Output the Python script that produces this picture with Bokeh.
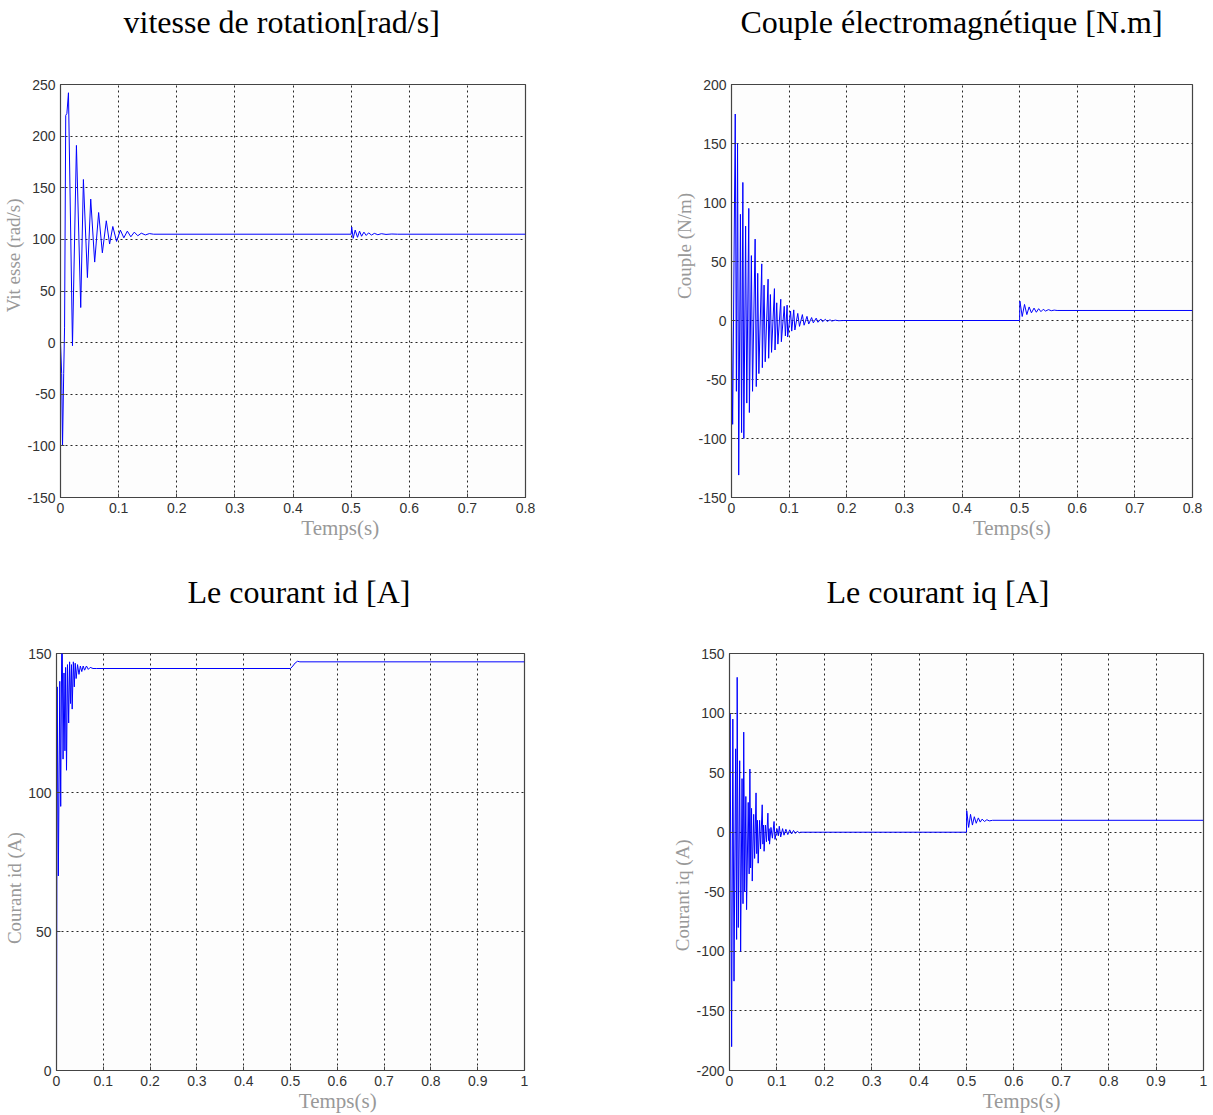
from bokeh.plotting import figure
from bokeh.layouts import column, row
from bokeh.models import Range1d, FixedTicker, Title
from bokeh.embed import file_html
from bokeh.resources import INLINE

# ---------------- data ----------------
titles = ["vitesse de rotation[rad/s]", "Couple électromagnétique [N.m]",
          "Le courant id [A]", "Le courant iq [A]"]
ylabels = ["Vit esse (rad/s)", "Couple (N/m)", "Courant id (A)", "Courant iq (A)"]
xlabel = "Temps(s)"

xticks_08 = [0, 0.1, 0.2, 0.3, 0.4, 0.5, 0.6, 0.7, 0.8]
xticks_10 = [0, 0.1, 0.2, 0.3, 0.4, 0.5, 0.6, 0.7, 0.8, 0.9, 1.0]
yticks_speed = [-150, -100, -50, 0, 50, 100, 150, 200, 250]
yticks_torque = [-150, -100, -50, 0, 50, 100, 150, 200]
yticks_id = [0, 50, 100, 150]
yticks_iq = [-200, -150, -100, -50, 0, 50, 100, 150]

speed_t = [0.000, 0.002, 0.0035, 0.0055, 0.007, 0.009, 0.011, 0.0137, 0.0206, 0.0274,
           0.0348, 0.0394, 0.0463, 0.052, 0.0588, 0.0656, 0.072, 0.0788, 0.0845, 0.090,
           0.0965, 0.103, 0.109, 0.115, 0.121, 0.127, 0.133, 0.139, 0.146, 0.153,
           0.160, 0.5, 0.501, 0.5035, 0.507, 0.511, 0.5145, 0.518, 0.522, 0.526,
           0.530, 0.535, 0.540, 0.546, 0.552, 0.560, 0.570, 0.580, 0.8]
speed_v = [0, -30, -100, -30, 15, 220, 222, 242, -3, 191,
           34, 158, 63, 139, 78, 126, 87, 118, 95.5, 112.5,
           98, 109, 101.5, 108, 102.5, 107, 103.5, 106, 104.3, 105.6,
           105, 105, 112, 101, 109, 102, 108, 103, 107, 103.8,
           106.3, 104.2, 105.8, 104.5, 105.5, 104.8, 105.2, 105, 105]

torque_t = [0.000, 0.002, 0.0065, 0.0085, 0.0105, 0.0125, 0.0155, 0.0175, 0.0197, 0.0214,
            0.0245, 0.0265, 0.0300, 0.0310, 0.0345, 0.0365, 0.0410, 0.0430, 0.0455, 0.0475,
            0.0525, 0.0535, 0.0565, 0.0585, 0.0635, 0.0645, 0.0675, 0.0695, 0.0745, 0.0755,
            0.0785, 0.0805, 0.0855, 0.0865, 0.0915, 0.0935, 0.0965, 0.0975, 0.1025, 0.1045,
            0.108, 0.110, 0.115, 0.118, 0.123, 0.126, 0.131, 0.134, 0.139, 0.142,
            0.147, 0.150, 0.155, 0.158, 0.163, 0.166, 0.171, 0.174, 0.180, 0.186,
            0.195, 0.5, 0.5005, 0.5045, 0.5085, 0.5125, 0.5165, 0.5205, 0.525, 0.529,
            0.533, 0.537, 0.541, 0.545, 0.550, 0.555, 0.560, 0.565, 0.8]
torque_v = [0, -88, 175, -60, 150, -131, 90, -95, 117, -100,
            80, -70, 95, -78, 55, -60, 69, -56, 40, -45,
            48, -40, 30, -35, 35, -32, 22, -27, 27, -25,
            15, -20, 18, -18, 12, -13, 13, -14, 8, -9,
            9, -8, 6, -5, 5, -4, 3.5, -3, 2.5, -2,
            2, -1.5, 1.3, -1, 1, -0.8, 0.6, -0.5, 0.3, -0.2,
            0, 0, 16.4, 3.4, 13.6, 5, 11.5, 6.5, 10.5, 7,
            10, 7.5, 9.5, 8, 9.2, 8.3, 8.8, 8.5, 8.5]

id_t = [0.000, 0.0015, 0.004, 0.007, 0.009, 0.011, 0.0125, 0.014, 0.016, 0.018,
        0.0195, 0.0214, 0.0235, 0.026, 0.028, 0.030, 0.032, 0.0335, 0.036, 0.038,
        0.040, 0.042, 0.045, 0.048, 0.051, 0.054, 0.057, 0.060, 0.064, 0.068,
        0.072, 0.078, 0.085, 0.5, 0.505, 0.510, 0.515, 0.520, 1.0]
id_v = [0, 138, 70, 140, 95, 150, 150, 112, 143, 115,
        145, 108, 146, 125, 147, 132, 146, 130, 147, 138,
        146.5, 141, 146, 142.5, 145.5, 143.5, 145.5, 144, 145.5, 144.3,
        145, 144.6, 144.6, 144.6, 145.5, 146.6, 147.2, 147, 147]

iq_t = [0.0000, 0.0012, 0.0045, 0.0070, 0.0095, 0.0130, 0.0150, 0.0162, 0.0185, 0.0215,
        0.0235, 0.0265, 0.0285, 0.0300, 0.0320, 0.0345, 0.0360, 0.0395, 0.0415, 0.0430,
        0.0445, 0.0465, 0.0480, 0.0510, 0.0530, 0.0560, 0.0575, 0.0590, 0.0605, 0.0635,
        0.0655, 0.0690, 0.0705, 0.0720, 0.0730, 0.0760, 0.0780, 0.0810, 0.0825, 0.0835,
        0.0845, 0.0875, 0.0905, 0.0940, 0.0960, 0.1000, 0.1030, 0.1050, 0.1080, 0.1120,
        0.1150, 0.1190, 0.1230, 0.1270, 0.1310, 0.1350, 0.1390, 0.1430, 0.1470, 0.1500,
        0.5, 0.5005, 0.5045, 0.5085, 0.5125, 0.5165, 0.5205, 0.525, 0.529, 0.533,
        0.538, 0.543, 0.548, 0.555, 1.0]
iq_v = [0, 100, -180, 95, -125, 70, -90, 130, -80, 60,
        -100, 45, -60, 84, -50, 30, -65, 25, -35, 53,
        -30, 20, -41, 15, -22, 33, -18, 10, -26, 10,
        -14, 23, -10, 6, -16, 6, -8, 16, -7, 3,
        -10, 4, -5, 9, -6, 3, -3, 5, -4, 3,
        -2.5, 2.5, -2, 2, -1.5, 1.5, -1, 0.8, -0.5, 0,
        0, 18, 4, 15, 6, 13, 7.5, 12, 8.5, 11,
        9, 10.5, 9.5, 10, 10]

# ---------------- styling ----------------
SERIF = "Liberation Serif"
SANS = "Liberation Sans"
NB = "\u00a0"


def make_panel(title, ylabel, xs, ys, xr, yr, xticks, yticks, w, h, bl, br, bt, bb,
               title_offset, gap, xpad, ypad_pre, ypad_post):
    p = figure(width=w, height=h, output_backend="svg", toolbar_location=None,
               x_range=Range1d(*xr), y_range=Range1d(*yr), title=None,
               min_border_left=bl, min_border_right=br,
               min_border_top=bt, min_border_bottom=bb)
    # spacer between frame and title (nearest to the frame)
    p.add_layout(Title(text=" ", text_font_size="1px", standoff=gap), "above")
    p.add_layout(Title(text=title, text_font=SERIF, text_font_size="32px",
                       text_font_style="normal", text_color="#000000",
                       align="left", offset=title_offset, standoff=0), "above")
    p.background_fill_color = "#fdfdfd"
    p.border_fill_color = "#ffffff"
    p.outline_line_color = "#444444"
    p.outline_line_width = 1.2

    p.line(xs, ys, line_color="#0000ff", line_width=1)

    p.xaxis.ticker = FixedTicker(ticks=xticks)
    p.yaxis.ticker = FixedTicker(ticks=yticks)
    p.xaxis.major_label_overrides = {t: ("%g" % t) for t in xticks}
    p.yaxis.major_label_overrides = {t: ("%g" % t) for t in yticks}
    for ax in (p.xaxis[0], p.yaxis[0]):
        ax.axis_line_color = "#444444"
        ax.major_tick_in = 4
        ax.major_tick_out = 0
        ax.major_tick_line_color = "#444444"
        ax.minor_tick_line_color = None
        ax.major_label_text_font = SANS
        ax.major_label_text_font_size = "14px"
        ax.major_label_text_color = "#333333"
        ax.major_label_standoff = 5
        ax.axis_label_text_font = SERIF
        ax.axis_label_text_font_style = "normal"
        ax.axis_label_text_color = "#999999"
        ax.axis_label_standoff = 0
    # non-breaking spaces shift the labels off-centre as in the picture
    p.xaxis.axis_label = NB * xpad + xlabel
    p.xaxis.axis_label_text_font_size = "21px"
    p.yaxis.axis_label = NB * ypad_pre + ylabel + NB * ypad_post
    p.yaxis.axis_label_text_font_size = "19px"

    p.xgrid.ticker = FixedTicker(ticks=xticks)
    p.ygrid.ticker = FixedTicker(ticks=yticks)
    for g in (p.xgrid[0], p.ygrid[0]):
        g.grid_line_color = "#000000"
        g.grid_line_dash = "2 3"
        g.grid_line_width = 1
        g.grid_line_alpha = 0.85
    return p


p1 = make_panel(titles[0], ylabels[0], speed_t, speed_v, (0, 0.8), (-150, 250),
                xticks_08, yticks_speed, 606, 555, 58, 81, 83, 57, 63, 42, 18, 15, 0)
p2 = make_panel(titles[1], ylabels[1], torque_t, torque_v, (0, 0.8), (-150, 200),
                xticks_08, yticks_torque, 607, 555, 125, 21, 84, 58, 9, 42, 19, 19, 0)
p3 = make_panel(titles[2], ylabels[2], id_t, id_v, (0, 1.0), (0, 150),
                xticks_10, yticks_id, 606, 560, 56, 82, 95, 45, 131, 41, 18, 0, 11)
p4 = make_panel(titles[3], ylabels[3], iq_t, iq_v, (0, 1.0), (-200, 150),
                xticks_10, yticks_iq, 607, 560, 123, 10, 98, 45, 97, 41, 21, 0, 14)

layout = column(row(p1, p2), row(p3, p4))
open("out.html", "w").write(file_html(layout, INLINE))
